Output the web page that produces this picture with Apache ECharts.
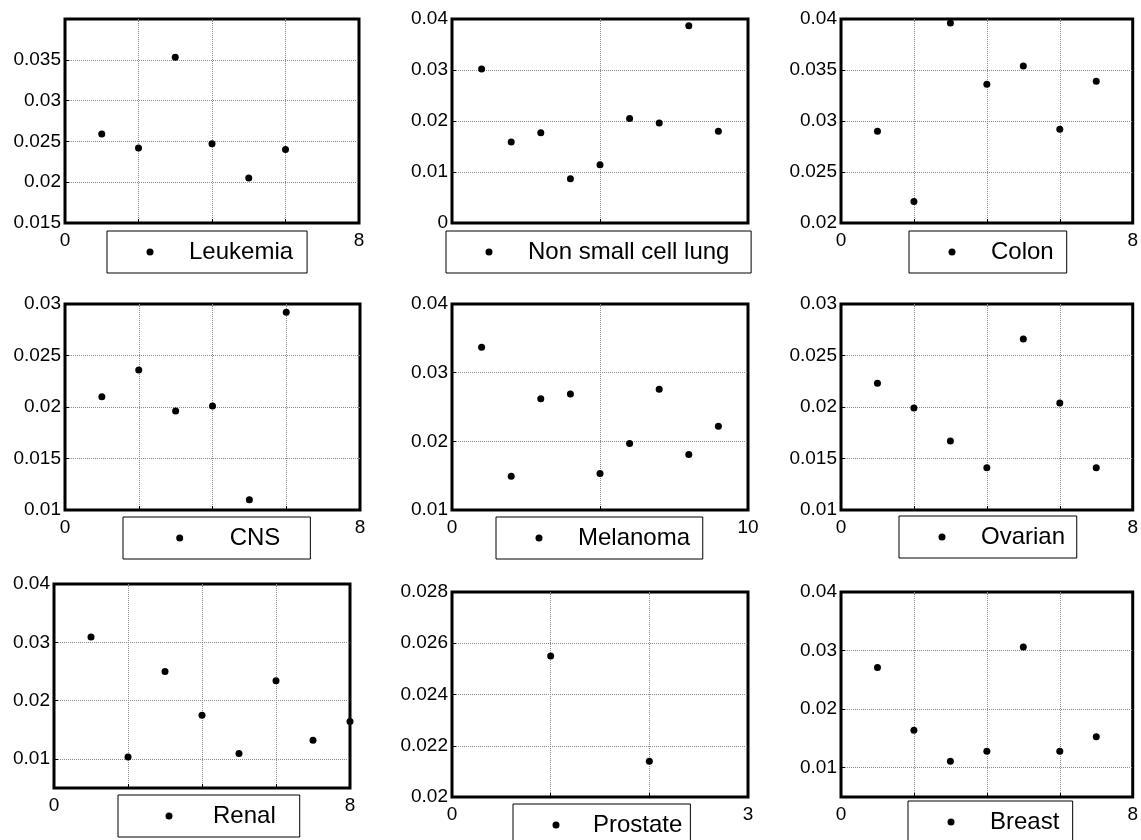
<!DOCTYPE html>
<html>
<head>
<meta charset="utf-8">
<script src="https://cdn.jsdelivr.net/npm/echarts@6/dist/echarts.min.js"></script>
<style>
html,body{margin:0;padding:0;background:#fff;}
#chart{width:1141px;height:840px;}
</style>
</head>
<body>
<div id="chart"></div>
<script>
// ---- data (x = sample index 1..n) ----
const panelNames = ['Leukemia', 'Non small cell lung', 'Colon', 'CNS', 'Melanoma', 'Ovarian', 'Renal', 'Prostate', 'Breast'];
const leukemia = [0.0259, 0.0242, 0.0353, 0.0247, 0.0205, 0.0240];
const nonSmallCellLung = [0.0302, 0.0159, 0.0177, 0.0087, 0.0114, 0.0205, 0.0196, 0.0387, 0.0180];
const colon = [0.0290, 0.0221, 0.0396, 0.0336, 0.0354, 0.0292, 0.0339];
const cns = [0.0210, 0.0236, 0.0196, 0.0201, 0.0110, 0.0292];
const melanoma = [0.0337, 0.0149, 0.0262, 0.0269, 0.0153, 0.0197, 0.0276, 0.0181, 0.0222];
const ovarian = [0.0223, 0.0199, 0.0167, 0.0141, 0.0266, 0.0204, 0.0141];
const renal = [0.0309, 0.0103, 0.0250, 0.0175, 0.0109, 0.0234, 0.0132, 0.0164];
const prostate = [0.0255, 0.0214];
const breast = [0.0271, 0.0164, 0.0111, 0.0128, 0.0306, 0.0128, 0.0153];
const panelValues = [leukemia, nonSmallCellLung, colon, cns, melanoma, ovarian, renal, prostate, breast];

// axis ranges
const xMaxes = [8, 10, 8, 8, 10, 8, 8, 3, 8];
const xIntervals = [2, 5, 2, 2, 5, 2, 2, 1, 2];
const yMins = [0.015, 0, 0.02, 0.01, 0.01, 0.01, 0.005, 0.02, 0.005];
const yMaxes = [0.04, 0.04, 0.04, 0.03, 0.04, 0.03, 0.04, 0.028, 0.04];
const yIntervals = [0.005, 0.01, 0.005, 0.005, 0.01, 0.005, null, 0.002, null];

// ---- layout ----
const grids = [
  {left: 65, top: 19, width: 294, height: 204},
  {left: 452, top: 19, width: 296, height: 204},
  {left: 841, top: 19, width: 293, height: 204},
  {left: 65, top: 304, width: 295, height: 206},
  {left: 452, top: 304, width: 296, height: 206},
  {left: 841, top: 304, width: 292, height: 206},
  {left: 54, top: 584, width: 296, height: 204},
  {left: 452, top: 592, width: 296, height: 205},
  {left: 841, top: 592, width: 295, height: 205}
];
const legendPos = [
  [107, 231], [446, 231], [909, 231],
  [123, 517], [496, 517], [899, 516],
  [118, 795], [513, 804], [908, 801]
];
const legendPadL = [39.5, 39.5, 39.5, 53.2, 39.5, 39.5, 47.5, 39.5, 39.5];
const legendItemW = [68, 68, 68, 90, 68, 68, 78, 64, 68];
const legendPadR = [14, 21.7, 13, 30, 12.7, 11.7, 24, 8, 13.3];

const FONT = "'Liberation Sans', Arial, Helvetica, sans-serif";
const gridLine = {show: true, showMinLine: false, showMaxLine: false,
  lineStyle: {color: '#8a8a8a', type: 'dotted', width: 1}};

const option = {
  backgroundColor: '#fff',
  animation: false,
  grid: [], xAxis: [], yAxis: [], series: [], legend: []
};

panelNames.forEach((name, i) => {
  option.grid.push(Object.assign({show: true, borderColor: '#000', borderWidth: 3, backgroundColor: 'transparent', containLabel: false}, grids[i]));
  option.xAxis.push({
    type: 'value', gridIndex: i, min: 0, max: xMaxes[i], interval: xIntervals[i],
    axisLine: {show: false},
    axisTick: {show: true, inside: true, length: 4, lineStyle: {color: '#000'}},
    splitLine: gridLine,
    axisLabel: {show: i !== 1, color: '#000', fontSize: 19, fontFamily: FONT, margin: 8}
  });
  const y = {
    type: 'value', gridIndex: i, min: yMins[i], max: yMaxes[i],
    axisLine: {show: false},
    axisTick: {show: true, inside: true, length: 4, lineStyle: {color: '#000'}},
    splitLine: gridLine,
    axisLabel: {color: '#000', fontSize: 19, fontFamily: FONT, margin: 4,
      showMaxLabel: i !== 0, showMinLabel: yIntervals[i] !== null}
  };
  if (yIntervals[i] !== null) { y.interval = yIntervals[i]; } else { y.splitNumber = 4; }
  option.yAxis.push(y);
  option.series.push({
    name: name, type: 'scatter', xAxisIndex: i, yAxisIndex: i, z: 5,
    symbol: 'circle', symbolSize: 7, itemStyle: {color: '#000', opacity: 1},
    data: panelValues[i].map((v, k) => [k + 1, v])
  });
  option.legend.push({
    data: [{name: name, icon: 'circle'}],
    left: legendPos[i][0], top: legendPos[i][1],
    orient: 'horizontal', padding: [9, legendPadR[i], 9, legendPadL[i]],
    itemWidth: legendItemW[i], itemHeight: 7, itemGap: 0,
    borderColor: '#000', borderWidth: 1, borderRadius: 0,
    backgroundColor: '#fff', selectedMode: false,
    itemStyle: {color: '#000', opacity: 1},
    textStyle: {fontSize: 24, color: '#000', fontFamily: FONT}
  });
});

const chart = echarts.init(document.getElementById('chart'), null, {renderer: 'canvas'});
chart.setOption(option);
</script>
</body>
</html>
